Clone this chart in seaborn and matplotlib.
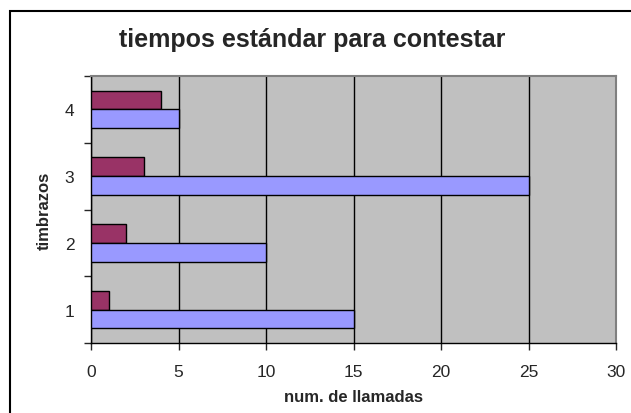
import pandas as pd
import matplotlib.pyplot as plt
import matplotlib.patches as mpatches
import seaborn as sns

# data
timbrazos = ["1", "2", "3", "4"]
serie_azul = [15, 10, 25, 5]
serie_granate = [1, 2, 3, 4]

df = pd.DataFrame({
    "timbrazos": timbrazos * 2,
    "llamadas": serie_granate + serie_azul,
    "serie": ["granate"] * 4 + ["azul"] * 4,
})

sns.set_style("white")
plt.rcParams["font.family"] = ["Liberation Sans", "DejaVu Sans"]

fig = plt.figure(figsize=(6.31, 4.14), dpi=100)
ax = fig.add_axes([91 / 631, 1 - 344 / 414, (616 - 91) / 631, (344 - 77) / 414])

sns.barplot(data=df, y="timbrazos", x="llamadas", hue="serie",
            order=["4", "3", "2", "1"], hue_order=["granate", "azul"],
            palette={"granate": "#993366", "azul": "#9999FF"},
            saturation=1, orient="h", width=0.56, edgecolor="black",
            linewidth=1, legend=False, ax=ax, zorder=3)

ax.set_facecolor("#C0C0C0")
ax.set_xlim(0, 30)
ax.set_ylim(3.5, -0.5)
ax.set_xticks(range(0, 31, 5))
ax.set_yticks([-0.5, 0.5, 1.5, 2.5, 3.5], labels=[])
ax.set_yticks([0, 1, 2, 3], labels=["4", "3", "2", "1"], minor=True)
ax.tick_params(axis="y", which="minor", length=0, pad=12, labelsize=12.5)
ax.tick_params(axis="y", which="major", length=5, width=1, direction="out", left=True)
ax.tick_params(axis="x", length=5, width=1, direction="out", bottom=True,
               labelsize=12.5, pad=10)
ax.xaxis.grid(True, color="black", linewidth=1, zorder=0)
ax.set_axisbelow(True)

for side in ["left", "bottom"]:
    ax.spines[side].set_color("black")
    ax.spines[side].set_linewidth(1)
for side in ["top", "right"]:
    ax.spines[side].set_color("#808080")
    ax.spines[side].set_linewidth(1.5)

ax.set_xlabel("num. de llamadas", fontsize=12, fontweight="bold", labelpad=7)
ax.set_ylabel("timbrazos", fontsize=12, fontweight="bold", labelpad=9)
fig.suptitle("tiempos estándar para contestar", fontsize=18, fontweight="bold",
             x=312 / 631, y=1 - 40 / 414, va="center")

# outer chart border
fig.patches.append(mpatches.Rectangle((10 / 631, -0.1), 1.2, 1 - 12 / 414 + 0.1,
                                      transform=fig.transFigure, fill=False,
                                      edgecolor="black", linewidth=1.5))

fig.savefig("out.png", dpi=100)
